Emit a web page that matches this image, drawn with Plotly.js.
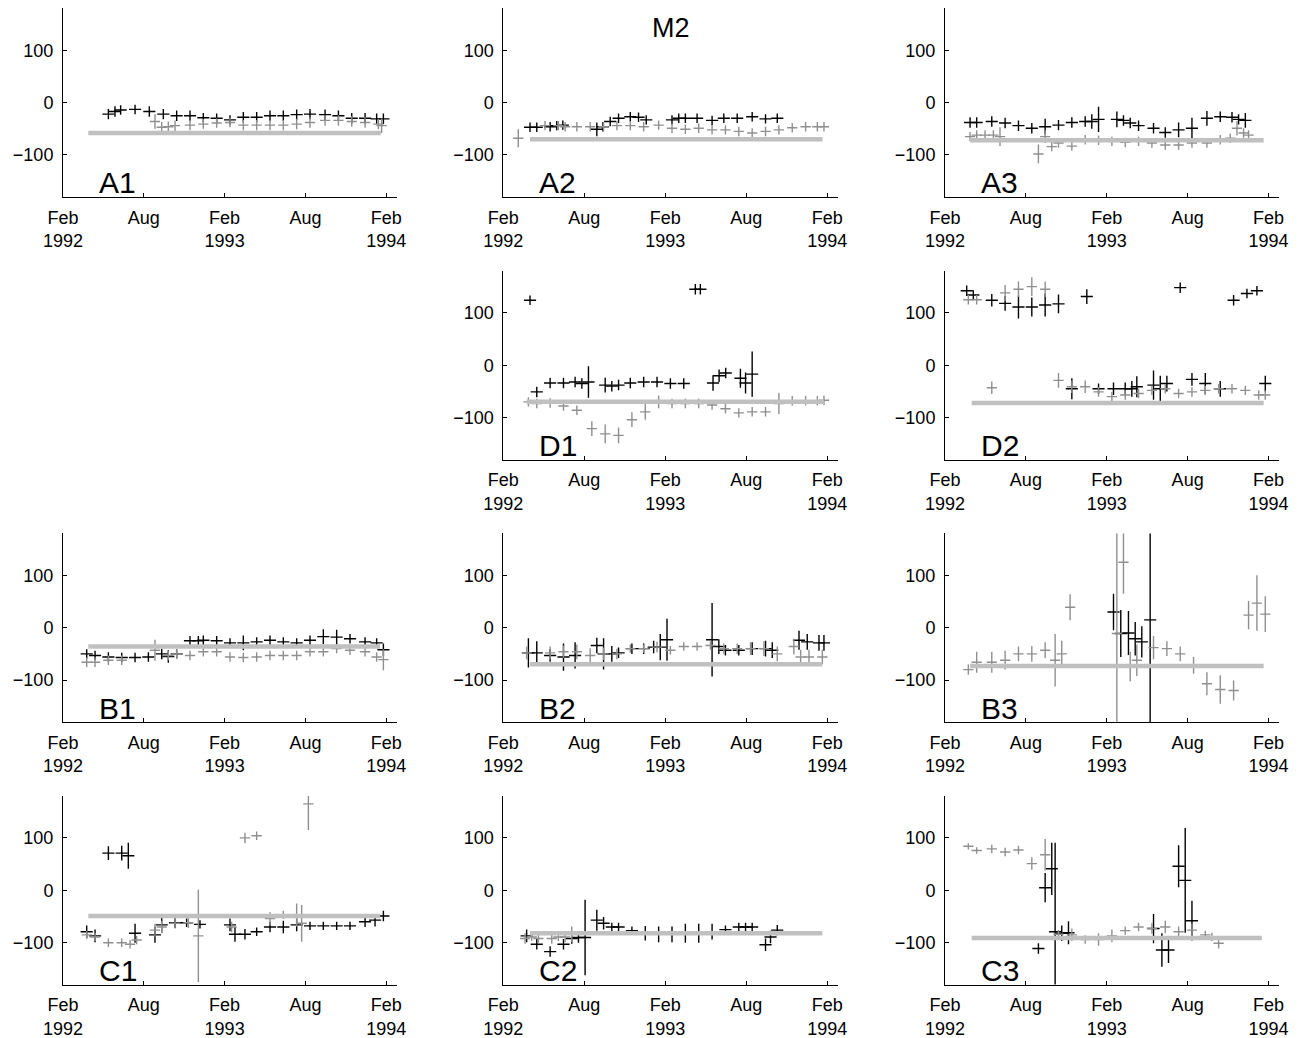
<!DOCTYPE html>
<html>
<head>
<meta charset="utf-8">
<script src="https://cdn.plot.ly/plotly-3.0.1.min.js"></script>
<style>html,body{margin:0;padding:0;background:#fff;}#chart{width:1302px;height:1038px;}</style>
</head>
<body>
<div id="chart"></div>
<script>
// ---- axis ticks (months since Feb 1992) ----
const xTickVals = [0, 6, 12, 18, 24];
const xTickText = ['Feb<br>1992', 'Aug', 'Feb<br>1993', 'Aug', 'Feb<br>1994'];
const yTickVals = [-100, 0, 100];
const yTickText = ['\u2212100', '0', '100'];
const panelNames = ['A1','A2','A3','D1','D2','B1','B2','B3','C1','C2','C3'];
const figTitle = 'M2';

// ---- A1 ----
const A1_bm = [3.37,3.86,4.28,5.35,6.41,7.45,8.44,9.43,10.42,11.41,12.40,13.39,14.38,15.37,16.36,17.35,18.34,19.46,20.45,21.44,22.43,23.29,23.79];
const A1_bv = [-22,-17,-14,-13,-17,-22,-25,-25,-29,-30,-33,-28,-28,-25,-25,-23,-22,-23,-25,-30,-30,-31,-31];
const A1_be = [10,10,9,9,10,10,10,10,9,9,9,10,10,10,10,10,10,10,10,10,10,10,10];
const A1_gm = [6.83,7.33,7.82,8.32,9.43,10.42,11.41,12.40,13.39,14.38,15.37,16.36,17.35,18.34,19.46,20.45,21.44,22.43,23.42,23.66];
const A1_gv = [-36,-47,-46,-44,-43,-41,-39,-38,-43,-43,-43,-43,-41,-38,-34,-34,-36,-38,-41,-44];
const A1_ge = [14,10,10,10,10,9,9,9,10,10,10,10,10,10,10,10,10,10,10,14];
const A1_ref = [1.88, 23.6, -58];

// ---- A2 ----
const A2_bm = [1.98,2.48,3.47,3.96,4.41,6.93,7.38,7.92,8.54,9.41,10.02,10.59,12.50,13.00,13.49,14.36,15.47,16.34,17.33,18.44,19.43,20.30];
const A2_bv = [-47,-47,-46,-44,-43,-51,-46,-36,-30,-27,-28,-33,-33,-30,-30,-30,-34,-30,-30,-27,-31,-30];
const A2_be = [9,9,9,9,9,13,9,9,9,9,9,9,9,9,9,9,9,9,9,9,9,9];
const A2_gm = [1.11,3.09,4.08,4.58,5.45,6.44,7.43,8.42,9.41,10.40,11.51,12.50,13.49,14.48,15.47,16.46,17.45,18.44,19.43,20.42,21.41,22.40,23.27,23.76];
const A2_gv = [-68,-44,-44,-46,-46,-46,-46,-44,-44,-46,-43,-49,-51,-49,-52,-52,-55,-58,-55,-52,-48,-46,-46,-46];
const A2_ge = [17,9,9,9,9,9,9,9,9,9,9,9,9,9,9,9,9,9,9,9,9,9,9,9];
const A2_ref = [1.98, 23.65, -70];

// ---- A3 ----
const A3_bm = [1.86,2.35,3.47,4.46,5.45,6.44,7.43,8.42,9.41,10.40,10.89,11.39,12.75,13.24,13.74,14.36,15.47,16.34,17.33,18.32,19.43,20.42,21.29,21.78,22.28];
const A3_bv = [-38,-38,-36,-39,-44,-49,-46,-43,-38,-36,-36,-32,-32,-34,-39,-44,-49,-57,-52,-49,-30,-27,-28,-32,-34];
const A3_be = [10,10,10,10,10,10,15,10,10,10,14,24,15,10,10,10,10,10,14,20,14,10,10,10,14];
const A3_gm = [1.86,2.35,2.97,3.59,4.08,6.93,7.43,7.92,8.42,9.41,10.40,11.39,12.38,13.37,14.36,15.35,16.34,17.33,18.32,19.43,20.42,21.16,21.66,22.15,22.52];
const A3_gv = [-65,-62,-62,-62,-65,-98,-65,-84,-77,-83,-71,-72,-74,-76,-74,-77,-81,-81,-77,-77,-71,-68,-49,-58,-62];
const A3_ge = [9,9,9,9,18,18,12,9,9,9,9,9,9,9,9,9,9,9,9,9,9,9,14,9,9];
const A3_ref = [1.86, 23.64, -72];

// ---- D1 ----
const D1_bm = [1.98,2.48,3.47,4.46,5.32,5.82,6.31,7.55,8.04,8.54,9.41,10.40,11.39,12.38,13.37,14.23,14.60,15.54,15.99,16.48,17.57,17.95,18.44];
const D1_bv = [124,-51,-34,-34,-32,-35,-32,-38,-40,-38,-34,-32,-32,-35,-35,145,145,-34,-20,-15,-25,-34,-17];
const D1_be = [9,10,10,10,10,10,30,14,10,10,10,10,10,10,10,10,10,15,12,10,18,20,43];
const D1_gm = [1.86,2.48,3.47,4.46,5.45,6.56,7.55,8.54,9.53,10.52,11.51,12.50,13.49,14.48,15.47,16.46,17.45,18.44,19.43,20.42,21.41,22.40,23.27,23.76];
const D1_gv = [-70,-73,-72,-78,-86,-121,-131,-134,-104,-89,-70,-73,-73,-73,-76,-83,-91,-89,-89,-73,-68,-68,-68,-67];
const D1_ge = [9,9,9,9,9,14,18,15,14,15,12,9,9,9,9,9,9,9,9,20,9,9,9,9];
const D1_ref = [1.73, 23.76, -70];

// ---- D2 ----
const D2_bm = [1.61,2.10,3.47,4.46,5.45,6.44,7.43,8.42,9.41,10.52,11.39,12.50,13.37,13.86,14.23,15.47,15.97,16.46,17.45,18.32,19.31,20.42,21.41,22.40,23.14,23.76];
const D2_bv = [142,134,124,118,111,111,115,117,-45,131,-45,-45,-45,-45,-41,-38,-45,-35,148,-27,-35,-45,124,137,142,-35];
const D2_be = [10,9,12,14,22,18,22,18,20,14,10,12,12,15,20,28,25,15,10,12,20,15,10,9,9,15];
const D2_gm = [1.73,2.35,3.47,4.46,5.45,6.44,7.43,8.42,9.41,10.40,11.39,12.38,13.37,14.36,15.35,16.34,17.33,18.32,19.31,20.30,21.29,22.28,23.27,23.76];
const D2_gv = [125,125,-43,138,145,150,145,-29,-41,-41,-51,-60,-57,-54,-48,-45,-54,-51,-48,-45,-45,-48,-57,-57];
const D2_ge = [9,9,12,15,15,18,15,14,12,12,9,9,9,9,9,9,9,9,9,9,9,9,9,9];
const D2_ref = [1.98, 23.64, -72];

// ---- B1 ----
const B1_bm = [1.76,2.38,3.37,4.36,5.35,6.34,7.33,7.82,8.44,9.43,10.05,10.42,11.41,12.40,13.39,14.38,15.37,16.36,17.35,18.34,19.33,20.32,21.31,22.43,23.29,23.79];
const B1_bv = [-50,-53,-56,-57,-57,-56,-50,-55,-50,-25,-25,-24,-25,-29,-29,-27,-24,-27,-29,-24,-17,-18,-21,-27,-29,-42];
const B1_be = [9,9,9,9,9,9,10,12,9,9,9,9,9,9,14,9,9,9,9,9,14,14,9,9,9,12];
const B1_gm = [1.76,2.38,3.37,4.36,6.83,7.82,8.44,9.43,10.42,11.41,12.40,13.39,14.38,15.37,16.36,17.35,18.34,19.33,20.32,21.31,22.43,23.29,23.79];
const B1_gv = [-66,-66,-62,-62,-43,-53,-50,-53,-46,-46,-56,-57,-56,-53,-53,-53,-46,-46,-40,-43,-46,-56,-61];
const B1_ge = [9,9,9,9,20,9,9,9,9,9,9,9,9,9,9,9,9,9,9,9,9,9,20];
const B1_ref = [1.88, 23.54, -36];

// ---- B2 ----
const B2_bm = [1.86,2.48,3.47,4.46,5.32,6.93,7.43,8.04,8.54,9.53,10.40,11.14,11.63,12.13,15.47,15.97,16.46,17.45,18.44,19.43,19.93,21.91,22.52,23.39,23.76];
const B2_bv = [-48,-48,-53,-56,-53,-34,-50,-50,-48,-40,-40,-37,-37,-23,-23,-36,-43,-43,-40,-40,-43,-24,-27,-29,-29];
const B2_be = [28,22,12,26,25,15,30,15,10,10,10,12,25,40,70,14,10,10,12,15,15,18,15,15,15];
const B2_gm = [1.73,3.47,4.46,5.45,6.44,7.43,8.42,9.41,10.40,11.39,12.38,13.37,14.36,15.35,16.34,17.33,18.32,19.31,20.30,21.53,22.03,22.65,23.64];
const B2_gv = [-48,-48,-46,-46,-53,-50,-50,-40,-40,-37,-43,-36,-36,-34,-40,-40,-40,-40,-50,-36,-56,-56,-56];
const B2_ge = [12,12,12,14,14,12,10,8,8,10,8,8,8,8,10,10,12,14,14,15,14,14,14];
const B2_ref = [1.98, 23.64, -70];

// ---- B3 ----
const B3_bm = [12.50,13.04,13.61,14.11,14.60,15.22];
const B3_bv = [30,-11,-10,-21,-27,15];
const B3_be = [35,45,42,32,30,200];
const B3_gm = [1.73,2.35,3.47,4.46,5.45,6.44,7.43,8.17,8.66,9.28,12.75,13.24,13.74,14.23,15.47,16.46,17.45,18.44,19.43,20.42,21.41,22.52,23.14,23.76];
const B3_gv = [-80,-66,-66,-62,-50,-50,-43,-62,-50,39,-11,125,-74,-62,-38,-40,-50,-72,-107,-118,-120,24,47,26];
const B3_ge = [10,20,20,18,14,15,15,50,25,25,200,60,28,30,22,14,14,16,22,27,19,27,53,34];
const B3_ref = [1.86, 23.64, -73];

// ---- C1 ----
const C1_bm = [1.76,2.38,3.37,4.36,4.85,5.35,6.83,7.33,8.32,9.18,10.17,12.40,12.77,13.51,14.38,15.37,16.36,17.35,18.34,19.33,20.32,21.31,22.43,23.17,23.79];
const C1_bv = [-79,-87,71,71,66,-82,-85,-66,-62,-62,-65,-66,-84,-84,-79,-70,-70,-66,-68,-68,-68,-68,-60,-57,-49];
const C1_be = [12,12,13,14,25,18,15,15,10,8,8,12,14,10,8,10,12,12,8,8,8,8,10,12,10];
const C1_gm = [1.76,2.38,3.37,4.36,4.98,5.47,6.83,7.33,8.32,9.31,10.05,12.52,13.51,14.38,15.37,16.36,17.35,17.72,18.22];
const C1_gv = [-85,-89,-100,-100,-103,-95,-76,-70,-63,-62,-87,-70,100,104,-54,-47,-47,-63,165];
const C1_ge = [8,8,8,8,8,8,12,12,10,10,88,10,10,8,12,8,22,35,50];
const C1_ref = [1.88, 23.54, -49];

// ---- C2 ----
const C2_bm = [1.73,2.48,3.47,4.46,5.07,5.57,6.06,6.93,7.43,8.04,8.54,9.53,10.52,11.51,12.50,13.49,14.48,15.47,16.46,17.45,17.95,18.44,19.43,19.80,20.30];
const C2_bv = [-87,-103,-117,-103,-92,-90,-90,-57,-63,-70,-70,-77,-82,-84,-84,-82,-82,-79,-75,-70,-70,-70,-104,-89,-76];
const C2_be = [12,10,10,10,10,10,72,20,12,8,8,8,14,15,15,18,18,15,8,8,8,8,12,12,10];
const C2_gm = [1.61,2.10,2.60,3.59,4.08,4.58,5.07];
const C2_gv = [-92,-89,-92,-92,-89,-89,-84];
const C2_ge = [10,8,8,10,8,10,15];
const C2_ref = [1.98, 23.64, -82];

// ---- C3 ----
const C3_bm = [6.93,7.43,7.92,8.17,8.66,9.16,15.47,16.09,16.58,17.33,17.82,18.32];
const C3_bv = [-111,5,41,-79,-82,-81,-73,-114,-114,46,19,-58];
const C3_be = [10,28,50,170,15,22,28,32,25,40,100,38];
const C3_gm = [1.73,2.35,3.47,4.46,5.45,6.44,7.43,8.42,9.41,10.40,11.39,12.38,13.37,14.36,15.35,16.34,17.33,18.32,19.31,19.80,20.30];
const C3_gv = [84,76,79,73,77,51,68,-84,-85,-94,-94,-87,-77,-70,-73,-70,-79,-76,-85,-89,-101];
const C3_ge = [6,6,8,8,8,12,30,8,12,8,12,12,8,8,10,12,10,12,8,8,10];
const C3_ref = [1.98, 23.51, -91];

// ---- layout geometry ----
const W = 1302, H = 1038;
const colPx = [[63, 397], [503.3, 838], [945, 1279.3]];
const rowPx = [[8.3, 196.9], [270.9, 459.5], [533.4, 722.0], [796.0, 984.6]];

const panels = [
  {name:'A1', c:0, r:0, bm:A1_bm, bv:A1_bv, be:A1_be, gm:A1_gm, gv:A1_gv, ge:A1_ge, ref:A1_ref},
  {name:'A2', c:1, r:0, bm:A2_bm, bv:A2_bv, be:A2_be, gm:A2_gm, gv:A2_gv, ge:A2_ge, ref:A2_ref},
  {name:'A3', c:2, r:0, bm:A3_bm, bv:A3_bv, be:A3_be, gm:A3_gm, gv:A3_gv, ge:A3_ge, ref:A3_ref},
  {name:'D1', c:1, r:1, bm:D1_bm, bv:D1_bv, be:D1_be, gm:D1_gm, gv:D1_gv, ge:D1_ge, ref:D1_ref},
  {name:'D2', c:2, r:1, bm:D2_bm, bv:D2_bv, be:D2_be, gm:D2_gm, gv:D2_gv, ge:D2_ge, ref:D2_ref},
  {name:'B1', c:0, r:2, bm:B1_bm, bv:B1_bv, be:B1_be, gm:B1_gm, gv:B1_gv, ge:B1_ge, ref:B1_ref},
  {name:'B2', c:1, r:2, bm:B2_bm, bv:B2_bv, be:B2_be, gm:B2_gm, gv:B2_gv, ge:B2_ge, ref:B2_ref},
  {name:'B3', c:2, r:2, bm:B3_bm, bv:B3_bv, be:B3_be, gm:B3_gm, gv:B3_gv, ge:B3_ge, ref:B3_ref},
  {name:'C1', c:0, r:3, bm:C1_bm, bv:C1_bv, be:C1_be, gm:C1_gm, gv:C1_gv, ge:C1_ge, ref:C1_ref},
  {name:'C2', c:1, r:3, bm:C2_bm, bv:C2_bv, be:C2_be, gm:C2_gm, gv:C2_gv, ge:C2_ge, ref:C2_ref},
  {name:'C3', c:2, r:3, bm:C3_bm, bv:C3_bv, be:C3_be, gm:C3_gm, gv:C3_gv, ge:C3_ge, ref:C3_ref}
];

const FONT = '"Liberation Sans", Arial, Helvetica, sans-serif';
const BLACK = '#000000', GRAY = '#8f8f8f', REF = '#c0c0c0';

const traces = [];
const layout = {
  width: W, height: H,
  margin: {l:0, r:0, t:0, b:0, pad:0},
  paper_bgcolor: '#ffffff', plot_bgcolor: '#ffffff',
  showlegend: false,
  font: {family: FONT, size: 18, color: '#000'},
  annotations: []
};

panels.forEach((p, i) => {
  const k = i + 1;
  const xa = k === 1 ? 'x' : 'x' + k;
  const ya = k === 1 ? 'y' : 'y' + k;
  const xkey = k === 1 ? 'xaxis' : 'xaxis' + k;
  const ykey = k === 1 ? 'yaxis' : 'yaxis' + k;
  const cx = colPx[p.c], ry = rowPx[p.r];
  layout[xkey] = {
    domain: [cx[0] / W, cx[1] / W], anchor: ya,
    range: [0, 24.8], fixedrange: true,
    showgrid: false, zeroline: false, showline: true, linecolor: '#000', linewidth: 1,
    ticks: 'inside', ticklen: 4, tickwidth: 1, tickcolor: '#000',
    ticklabelstandoff: 4,
    tickmode: 'array', tickvals: xTickVals, ticktext: xTickText,
    tickfont: {family: FONT, size: 18, color: '#000'}
  };
  layout[ykey] = {
    domain: [1 - ry[1] / H, 1 - ry[0] / H], anchor: xa,
    range: [-180, 180], fixedrange: true,
    showgrid: false, zeroline: false, showline: true, linecolor: '#000', linewidth: 1,
    ticks: 'inside', ticklen: 4, tickwidth: 1, tickcolor: '#000',
    ticklabelstandoff: 5,
    tickmode: 'array', tickvals: yTickVals, ticktext: yTickText,
    tickfont: {family: FONT, size: 18, color: '#000'}
  };
  // black crosses
  traces.push({
    type: 'scatter', mode: 'markers', xaxis: xa, yaxis: ya,
    x: p.bm, y: p.bv, hoverinfo: 'skip',
    marker: {size: 1, color: 'rgba(0,0,0,0)'},
    error_x: {type: 'constant', value: 0.45, width: 0, thickness: 1.4, color: BLACK},
    error_y: {type: 'data', array: p.be, width: 0, thickness: 1.4, color: BLACK}
  });
  // gray crosses
  traces.push({
    type: 'scatter', mode: 'markers', xaxis: xa, yaxis: ya,
    x: p.gm, y: p.gv, hoverinfo: 'skip',
    marker: {size: 1, color: 'rgba(0,0,0,0)'},
    error_x: {type: 'constant', value: 0.38, width: 0, thickness: 1.4, color: GRAY},
    error_y: {type: 'data', array: p.ge, width: 0, thickness: 1.4, color: GRAY}
  });
  // reference level
  traces.push({
    type: 'scatter', mode: 'lines', xaxis: xa, yaxis: ya,
    x: [p.ref[0], p.ref[1]], y: [p.ref[2], p.ref[2]], hoverinfo: 'skip',
    line: {color: REF, width: 4.5}
  });
  layout.annotations.push({
    text: p.name, showarrow: false,
    xref: xa + ' domain', yref: ya + ' domain',
    x: 34 / (cx[1] - cx[0]), y: 14 / (ry[1] - ry[0]),
    xanchor: 'left', yanchor: 'middle',
    font: {family: FONT, size: 30, color: '#000'}
  });
});

layout.annotations.push({
  text: figTitle, showarrow: false, xref: 'paper', yref: 'paper',
  x: 670.7 / W, y: 1 - 27.7 / H, xanchor: 'center', yanchor: 'middle',
  font: {family: FONT, size: 27, color: '#000'}
});

Plotly.newPlot('chart', traces, layout, {displayModeBar: false, staticPlot: true});
</script>
</body>
</html>
